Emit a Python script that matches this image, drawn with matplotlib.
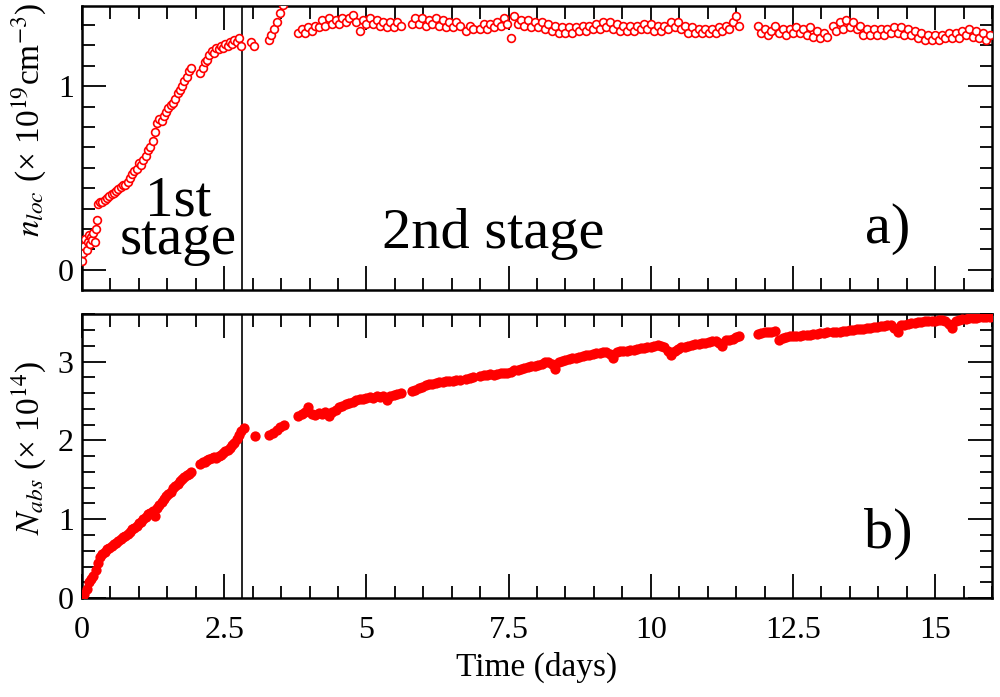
import numpy as np
import matplotlib
matplotlib.use("Agg")
import matplotlib.pyplot as plt
from matplotlib.ticker import MultipleLocator

plt.rcParams['font.family'] = ['Liberation Serif', 'DejaVu Serif']
plt.rcParams['mathtext.fontset'] = 'stix'

# Each run of data: (start time [days], sampling step [days], values)
# a) local density n_loc (x 1e19 cm^-3)
nloc_runs = [
    (0.00, 0.02, [0.05, 0.09, 0.13, 0.17, 0.11, 0.15, 0.19, 0.14, 0.18, 0.16,
                  0.20, 0.15, 0.22, 0.27]),
    (0.28, 0.04, [0.36, 0.37, 0.37, 0.38, 0.39, 0.40, 0.41, 0.42, 0.43, 0.44,
                  0.45, 0.46, 0.46, 0.48, 0.50, 0.52, 0.54, 0.55, 0.58, 0.57,
                  0.60, 0.62, 0.65, 0.67, 0.70, 0.75, 0.80, 0.82, 0.81, 0.84,
                  0.86, 0.88, 0.90, 0.91, 0.93, 0.96, 0.98, 1.00, 1.03, 1.05,
                  1.08, 1.10]),
    (2.08, 0.04, [1.07, 1.10, 1.13, 1.14, 1.17, 1.19, 1.18, 1.21, 1.20, 1.22,
                  1.21, 1.23, 1.22, 1.24, 1.23, 1.25, 1.24, 1.26, 1.22]),
    (2.98, 0.04, [1.24, 1.22]),
    (3.28, 0.05, [1.25, 1.28, 1.31, 1.35, 1.40, 1.44, 1.48]),
    (3.80, 0.06, [1.29, 1.31, 1.29, 1.32, 1.30, 1.33, 1.32, 1.36, 1.33, 1.37,
                  1.34, 1.36, 1.34, 1.37, 1.35, 1.37, 1.39, 1.35, 1.30, 1.36,
                  1.34, 1.37, 1.34, 1.36, 1.33, 1.35, 1.32, 1.35, 1.32, 1.35,
                  1.33]),
    (5.80, 0.06, [1.34, 1.37, 1.34, 1.37, 1.33, 1.36, 1.34, 1.37, 1.33, 1.36,
                  1.32, 1.35, 1.32, 1.35, 1.33]),
    (6.76, 0.06, [1.30, 1.33, 1.31]),
    (7.00, 0.06, [1.31, 1.34, 1.31, 1.34, 1.32, 1.35, 1.33, 1.37, 1.34, 1.26,
                  1.38, 1.34, 1.36, 1.33, 1.36, 1.32, 1.35, 1.32, 1.35, 1.31,
                  1.34, 1.30, 1.33, 1.29, 1.32, 1.29, 1.32, 1.29, 1.32, 1.30,
                  1.33, 1.30, 1.33, 1.31, 1.34, 1.31, 1.35, 1.32, 1.35, 1.31,
                  1.34, 1.30, 1.33, 1.30, 1.33, 1.30, 1.33, 1.31, 1.34, 1.31,
                  1.34, 1.30, 1.33, 1.30, 1.33, 1.31, 1.35, 1.32, 1.35, 1.31,
                  1.33, 1.29, 1.32, 1.29, 1.31, 1.29, 1.31, 1.29, 1.31, 1.29,
                  1.32, 1.30, 1.33, 1.31, 1.35, 1.38, 1.33]),
    (11.88, 0.06, [1.33, 1.29, 1.31, 1.28, 1.30, 1.33]),
    (12.26, 0.06, [1.29, 1.31, 1.28, 1.31, 1.29, 1.32, 1.29, 1.31, 1.28, 1.32,
                   1.27, 1.30, 1.26, 1.29, 1.27]),
    (13.20, 0.06, [1.33, 1.30, 1.35, 1.31, 1.36, 1.32, 1.35, 1.31, 1.33, 1.28,
                   1.31, 1.28, 1.31, 1.28, 1.31, 1.28, 1.31, 1.29, 1.32, 1.29,
                   1.32, 1.28, 1.31, 1.28, 1.30, 1.26, 1.29, 1.25, 1.28, 1.25,
                   1.28, 1.25, 1.28, 1.26, 1.29, 1.26, 1.29, 1.26, 1.30, 1.28,
                   1.31, 1.27, 1.30, 1.26, 1.29, 1.25, 1.28]),
]

# b) absorbed amount N_abs (x 1e14)
nabs_runs = [
    (0.00, 0.04, [0.00, 0.05, 0.12, 0.20, 0.24, 0.28, 0.35, 0.45, 0.52, 0.56,
                  0.59, 0.62, 0.64, 0.66, 0.68, 0.70, 0.72, 0.75, 0.77, 0.79,
                  0.81, 0.84, 0.87, 0.89, 0.92, 0.95, 0.97, 1.00, 1.03, 1.06,
                  1.08, 1.10, 1.04, 1.14, 1.18, 1.22, 1.26, 1.29, 1.32, 1.35,
                  1.39, 1.42, 1.45, 1.48, 1.51, 1.54, 1.56, 1.58, 1.60]),
    (2.08, 0.04, [1.70, 1.72, 1.73, 1.75, 1.76, 1.78, 1.79, 1.78, 1.80, 1.82,
                  1.84, 1.86, 1.88, 1.91, 1.94, 1.97, 2.02, 2.07, 2.12, 2.16]),
    (3.04, 0.04, [2.05]),
    (3.28, 0.07, [2.07, 2.10, 2.13, 2.17, 2.20]),
    (3.80, 0.06, [2.31, 2.33, 2.36, 2.42, 2.33, 2.32, 2.35, 2.33, 2.36, 2.31,
                  2.36, 2.39, 2.42, 2.44, 2.46, 2.48, 2.49, 2.51, 2.52, 2.53,
                  2.54, 2.55, 2.54, 2.56, 2.55, 2.57, 2.51, 2.57, 2.58, 2.59,
                  2.60]),
    (5.80, 0.06, [2.63, 2.64, 2.66, 2.68, 2.70, 2.71, 2.72, 2.73, 2.74, 2.74,
                  2.75, 2.76, 2.76, 2.77, 2.77]),
    (6.76, 0.06, [2.78, 2.79, 2.80]),
    (7.00, 0.06, [2.82, 2.83, 2.83, 2.84, 2.83, 2.84, 2.85, 2.86, 2.86, 2.87,
                  2.89, 2.90, 2.91, 2.92, 2.93, 2.94, 2.95, 2.96, 2.97, 2.99,
                  3.00, 2.97, 2.91, 2.99, 3.01, 3.02, 3.03, 3.04, 3.05, 3.06,
                  3.07, 3.08, 3.09, 3.10, 3.11, 3.11, 3.12, 3.12, 3.10, 3.04,
                  3.12, 3.13, 3.14, 3.14, 3.15, 3.15, 3.16, 3.17, 3.17, 3.18,
                  3.19, 3.20, 3.21, 3.20, 3.18, 3.14, 3.09, 3.14, 3.16, 3.18,
                  3.19, 3.20, 3.21, 3.22, 3.23, 3.24, 3.24, 3.25, 3.26, 3.26,
                  3.24, 3.20, 3.27, 3.28, 3.29, 3.31, 3.32]),
    (11.88, 0.06, [3.35, 3.36, 3.37, 3.38, 3.38, 3.39]),
    (12.26, 0.06, [3.28, 3.30, 3.31, 3.32, 3.32, 3.33, 3.33, 3.34, 3.34, 3.34,
                   3.35, 3.35, 3.36, 3.36, 3.37]),
    (13.20, 0.06, [3.37, 3.38, 3.38, 3.39, 3.39, 3.40, 3.40, 3.41, 3.42, 3.42,
                   3.43, 3.43, 3.44, 3.44, 3.45, 3.45, 3.46, 3.46, 3.43, 3.38,
                   3.46, 3.47, 3.48, 3.49, 3.49, 3.50, 3.50, 3.51, 3.51, 3.52,
                   3.52, 3.53, 3.53, 3.52, 3.48, 3.43, 3.52, 3.53, 3.54, 3.54,
                   3.55, 3.55, 3.55, 3.56, 3.56, 3.56, 3.57]),
]

t_stage = 2.82   # end of first stage


def unpack(runs):
    t, v = [], []
    for t0, dt, vals in runs:
        t.extend(t0 + dt * np.arange(len(vals)))
        v.extend(vals)
    return np.array(t), np.array(v)


t_a, n_loc = unpack(nloc_runs)
t_b, n_abs = unpack(nabs_runs)

fig = plt.figure(figsize=(10, 6.97), dpi=100)
ax1 = fig.add_axes([0.082, 0.584, 0.910, 0.407])
ax2 = fig.add_axes([0.082, 0.142, 0.910, 0.407])

ax1.plot(t_a, n_loc, 'o', mfc='white', mec='red', ms=5.6, mew=1.2, zorder=3)
ax2.plot(t_b, n_abs, 'o', color='red', ms=7.4, mew=0, zorder=3)

for ax in (ax1, ax2):
    ax.axvline(t_stage, color='black', lw=1.2, zorder=2)
    ax.set_xlim(0, 16)
    ax.xaxis.set_major_locator(MultipleLocator(2.5))
    ax.xaxis.set_minor_locator(MultipleLocator(0.5))
    ax.xaxis.set_major_formatter(plt.FuncFormatter(lambda v, p: f'{v:g}'))
    ax.tick_params(which='both', direction='in', top=True, right=True,
                   labelsize=23, width=1.3)
    ax.tick_params(which='major', length=17, pad=6)
    ax.tick_params(which='minor', length=9)
    ax.tick_params(axis='x', which='major', pad=13)
    for s in ax.spines.values():
        s.set_linewidth(1.8)

ax1.set_ylim(-0.11, 1.435)
ax1.yaxis.set_major_locator(MultipleLocator(1))
ax1.yaxis.set_minor_locator(MultipleLocator(1 / 9))
ax1.tick_params(labelbottom=False)
ax1.set_ylabel(r'$n_{loc}$ (× 10$^{19}$cm$^{-3}$)', fontsize=24)
ax1.yaxis.set_label_coords(-0.037, 0.6)

ax2.set_ylim(0, 3.6)
ax2.yaxis.set_major_locator(MultipleLocator(1))
ax2.yaxis.set_minor_locator(MultipleLocator(0.2))
ax2.set_ylabel(r'$N_{abs}$ (× 10$^{14}$)', fontsize=24)
ax2.yaxis.set_label_coords(-0.037, 0.53)
ax2.set_xlabel('Time (days)', fontsize=24, labelpad=5)

ax1.text(1.70, 0.085, '1st\nstage', fontsize=41, ha='center', va='baseline',
         multialignment='center', linespacing=0.66)
ax1.text(7.23, 0.12, '2nd stage', fontsize=42, ha='center', va='baseline')
ax1.text(14.16, 0.147, 'a)', fontsize=42, ha='center', va='baseline')
ax2.text(14.18, 0.635, 'b)', fontsize=42, ha='center', va='baseline')

fig.savefig('out.png', dpi=100)
